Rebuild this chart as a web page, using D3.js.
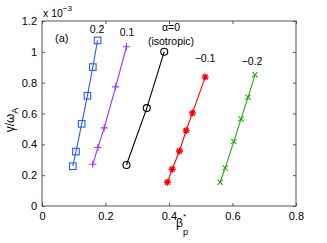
<!DOCTYPE html>
<html>
<head>
<meta charset="utf-8">
<script src="https://cdn.jsdelivr.net/npm/d3@7"></script>
<style>
  body { margin: 0; background: #fff; }
  text { font-family: "Liberation Sans", Arial, sans-serif; }
</style>
</head>
<body>
<script>
// growth rate vs beta_p* for several anisotropy values (y in units of 1e-3)
var blueX = [0.097, 0.107, 0.125, 0.143, 0.160, 0.175];
var blueY = [0.258, 0.353, 0.533, 0.715, 0.901, 1.074];
var purpleX = [0.160, 0.176, 0.196, 0.232, 0.266];
var purpleY = [0.271, 0.379, 0.507, 0.773, 1.033];
var blackX = [0.266, 0.330, 0.385];
var blackY = [0.266, 0.635, 1.001];
var redX = [0.395, 0.410, 0.433, 0.454, 0.474, 0.514];
var redY = [0.154, 0.238, 0.357, 0.490, 0.604, 0.836];
var greenX = [0.561, 0.577, 0.604, 0.627, 0.649, 0.671];
var greenY = [0.154, 0.247, 0.418, 0.565, 0.706, 0.851];

var xTicks = [0, 0.2, 0.4, 0.6, 0.8];
var yTicks = [0, 0.2, 0.4, 0.6, 0.8, 1, 1.2];

var series = [
  {x: blueX, y: blueY, color: "#2a5cf0", marker: "square"},
  {x: purpleX, y: purpleY, color: "#9933ff", marker: "plus"},
  {x: blackX, y: blackY, color: "#000000", marker: "circle"},
  {x: redX, y: redY, color: "#ff0000", marker: "star"},
  {x: greenX, y: greenY, color: "#22aa11", marker: "cross"}
];

var W = 327, H = 243;
var mLeft = 42, mRight = 296, mTop = 21, mBottom = 206;

var svg = d3.select("body").append("svg")
    .attr("width", W).attr("height", H);

var x = d3.scaleLinear().domain([0, 0.8]).range([mLeft, mRight]);
var y = d3.scaleLinear().domain([0, 1.2]).range([mBottom, mTop]);

// frame
svg.append("rect")
    .attr("x", mLeft).attr("y", mTop)
    .attr("width", mRight - mLeft).attr("height", mBottom - mTop)
    .attr("fill", "none").attr("stroke", "#555").attr("stroke-width", 1);

// axes, inward ticks
svg.append("g").attr("transform", "translate(0," + mBottom + ")")
    .call(d3.axisBottom(x).tickValues(xTicks).tickSizeInner(-3).tickSizeOuter(0)
      .tickPadding(6).tickFormat(function(d) { return d === 0 ? "0" : d3.format(".1f")(d); }));
svg.append("g").attr("transform", "translate(" + mLeft + ",0)")
    .call(d3.axisLeft(y).tickValues(yTicks).tickSizeInner(-3).tickSizeOuter(0)
      .tickPadding(5).tickFormat(function(d) { return d === 0 || d === 1 ? String(d) : d3.format(".1f")(d); }));
svg.append("g").attr("transform", "translate(0," + mTop + ")")
    .call(d3.axisTop(x).tickValues(xTicks).tickSizeInner(-3).tickSizeOuter(0).tickFormat(""));
svg.append("g").attr("transform", "translate(" + mRight + ",0)")
    .call(d3.axisRight(y).tickValues(yTicks).tickSizeInner(-3).tickSizeOuter(0).tickFormat(""));

svg.selectAll(".domain").remove();
svg.selectAll(".tick line").attr("stroke", "#555");
svg.selectAll(".tick text").attr("font-size", 11).attr("fill", "#000")
    .style("font-family", "Liberation Sans, Arial, sans-serif");

// lines + markers
var line = d3.line().x(function(d) { return x(d[0]); }).y(function(d) { return y(d[1]); });

series.forEach(function(s) {
  var pts = s.x.map(function(v, i) { return [v, s.y[i]]; });
  svg.append("path").datum(pts).attr("d", line)
      .attr("fill", "none").attr("stroke", s.color).attr("stroke-width", 1.1);
  var g = svg.append("g").attr("stroke", s.color).attr("fill", "none").attr("stroke-width", 1.1);
  pts.forEach(function(p) {
    var cx = x(p[0]), cy = y(p[1]);
    if (s.marker === "square") {
      g.append("rect").attr("x", cx - 3.3).attr("y", cy - 3.3).attr("width", 6.6).attr("height", 6.6);
    } else if (s.marker === "circle") {
      g.append("circle").attr("cx", cx).attr("cy", cy).attr("r", 3.5);
    } else if (s.marker === "plus") {
      g.append("path").attr("d", "M" + (cx - 3.5) + "," + cy + "h7M" + cx + "," + (cy - 3.5) + "v7");
    } else if (s.marker === "cross") {
      g.append("path").attr("d", "M" + (cx - 2.6) + "," + (cy - 2.6) + "l5.2,5.2M" + (cx - 2.6) + "," + (cy + 2.6) + "l5.2,-5.2");
    } else if (s.marker === "star") {
      g.append("path").attr("stroke-width", 1.4).attr("d",
        "M" + (cx - 3.5) + "," + cy + "h7M" + cx + "," + (cy - 3.5) + "v7" +
        "M" + (cx - 2.5) + "," + (cy - 2.5) + "l5,5M" + (cx - 2.5) + "," + (cy + 2.5) + "l5,-5");
    }
  });
});

// annotations
var labels = [
  {t: "0.2", x: 97, y: 33},
  {t: "0.1", x: 127, y: 36},
  {t: "\u03b1=0", x: 171, y: 31},
  {t: "(isotropic)", x: 171, y: 45},
  {t: "\u22120.1", x: 205, y: 62},
  {t: "\u22120.2", x: 252, y: 65}
];
svg.selectAll(".ann").data(labels).enter().append("text")
    .attr("x", function(d) { return d.x; }).attr("y", function(d) { return d.y; })
    .attr("text-anchor", "middle").attr("font-size", 10.5).text(function(d) { return d.t; });

svg.append("text").attr("x", 55).attr("y", 42).attr("font-size", 11).text("(a)");

// exponent
var ex = svg.append("text").attr("x", 43).attr("y", 17).attr("font-size", 10.5);
ex.append("tspan").text("x 10");
ex.append("tspan").attr("dy", -6).attr("font-size", 8).text("\u22123");

// axis labels
var xl = svg.append("text").attr("x", 176).attr("y", 227).attr("font-size", 12);
xl.append("tspan").text("\u03b2");
xl.append("tspan").attr("dx", 0).attr("dy", -8).attr("font-size", 8).text("*");
xl.append("tspan").attr("dx", -3).attr("dy", 16).attr("font-size", 9).text("p");

var yl = svg.append("text").attr("transform", "translate(14,120) rotate(-90)")
    .attr("text-anchor", "middle").attr("font-size", 12);
yl.append("tspan").text("\u03b3/\u03c9");
yl.append("tspan").attr("dy", 4).attr("font-size", 9).text("A");
</script>
</body>
</html>
